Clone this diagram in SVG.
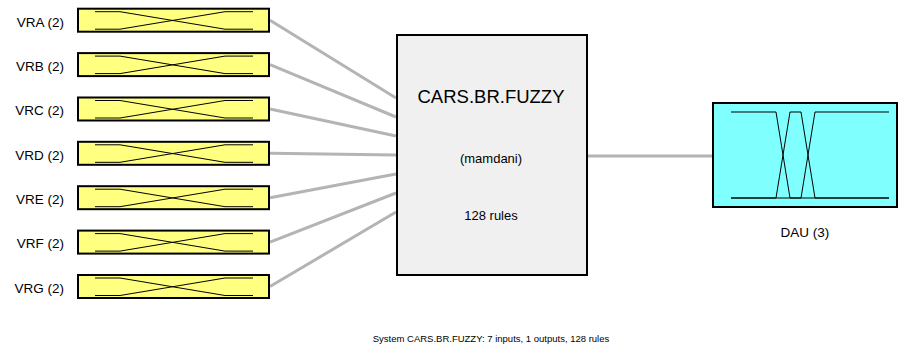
<svg xmlns="http://www.w3.org/2000/svg" width="899" height="349" viewBox="0 0 899 349">
<style>
.lbl{font-family:"Liberation Sans",Arial,sans-serif;font-size:13.5px;fill:#000}
.ibox{fill:#ffff80;stroke:#000;stroke-width:2}
.mf{fill:none;stroke:#000;stroke-width:1}
.conn{stroke:#b4b4b4;stroke-width:3;fill:none}
</style>
<defs>
<g id="inmf">
<rect class="ibox" x="0" y="0" width="191" height="23"/>
<polyline class="mf" points="17,3 42,3 147,20.5 175,20.5"/>
<polyline class="mf" points="17,20.5 42,20.5 147,3 175,3"/>
</g>
</defs>
<g id="connectors">
<line class="conn" x1="270" y1="20.2" x2="396" y2="98"/>
<line class="conn" x1="270" y1="64.6" x2="396" y2="117"/>
<line class="conn" x1="270" y1="109" x2="396" y2="136"/>
<line class="conn" x1="270" y1="153.3" x2="396" y2="155"/>
<line class="conn" x1="270" y1="197.7" x2="396" y2="174"/>
<line class="conn" x1="270" y1="242.1" x2="396" y2="193"/>
<line class="conn" x1="270" y1="286.5" x2="396" y2="212"/>
<line class="conn" x1="587" y1="156" x2="713" y2="156"/>
</g>
<g id="VRA"><use href="#inmf" x="78" y="8.7"/><text class="lbl" x="64" y="26.5" text-anchor="end">VRA (2)</text></g>
<g id="VRB"><use href="#inmf" x="78" y="53.1"/><text class="lbl" x="64" y="70.9" text-anchor="end">VRB (2)</text></g>
<g id="VRC"><use href="#inmf" x="78" y="97.5"/><text class="lbl" x="64" y="115.3" text-anchor="end">VRC (2)</text></g>
<g id="VRD"><use href="#inmf" x="78" y="141.8"/><text class="lbl" x="64" y="159.6" text-anchor="end">VRD (2)</text></g>
<g id="VRE"><use href="#inmf" x="78" y="186.2"/><text class="lbl" x="64" y="204" text-anchor="end">VRE (2)</text></g>
<g id="VRF"><use href="#inmf" x="78" y="230.6"/><text class="lbl" x="64" y="248.4" text-anchor="end">VRF (2)</text></g>
<g id="VRG"><use href="#inmf" x="78" y="275"/><text class="lbl" x="64" y="292.8" text-anchor="end">VRG (2)</text></g>
<g id="system">
<rect x="397" y="35" width="190" height="240" fill="#f0f0f0" stroke="#000" stroke-width="2"/>
<text x="491" y="103.3" text-anchor="middle" style="font-family:'Liberation Sans',Arial,sans-serif;font-size:18.5px">CARS.BR.FUZZY</text>
<text class="lbl" x="491" y="163" text-anchor="middle" style="font-size:13px">(mamdani)</text>
<text class="lbl" x="491" y="220" text-anchor="middle" style="font-size:13px">128 rules</text>
</g>
<g id="DAU">
<rect x="713" y="103" width="184" height="104" fill="#80ffff" stroke="#000" stroke-width="2"/>
<polyline class="mf" points="731,112 776,112 790,198 889,198"/>
<polyline class="mf" points="731,198 776,198 790,112 801,112 815,198 889,198"/>
<polyline class="mf" points="731,198 801,198 815,112 889,112"/>
<text class="lbl" x="805" y="237" text-anchor="middle">DAU (3)</text>
</g>
<text x="491" y="342" text-anchor="middle" style="font-family:'Liberation Sans',Arial,sans-serif;font-size:9.5px">System CARS.BR.FUZZY: 7 inputs, 1 outputs, 128 rules</text>
</svg>
